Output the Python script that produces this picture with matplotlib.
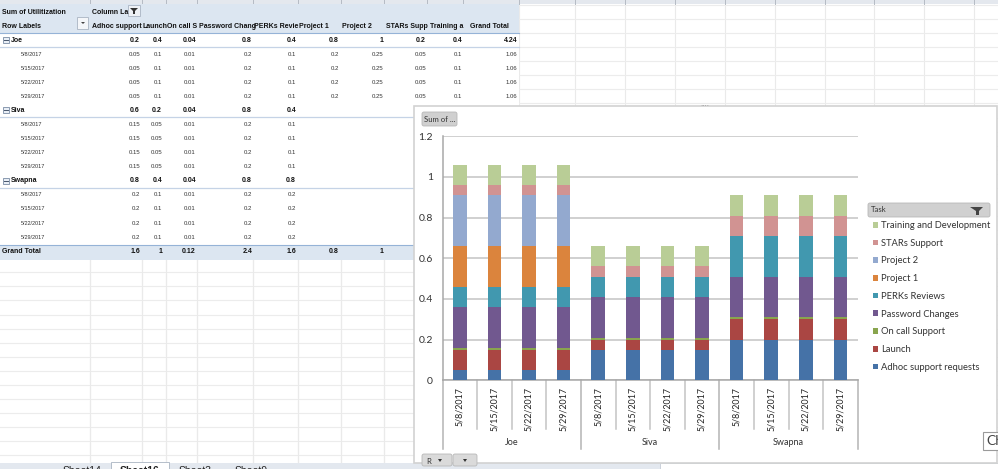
#!/usr/bin/env python3
import numpy as np
import matplotlib
matplotlib.use("Agg")
import matplotlib.pyplot as plt
from matplotlib.patches import Rectangle, FancyBboxPatch, Polygon

# chart data
people = ["Joe", "Siva", "Swapna"]
dates = ["5/8/2017", "5/15/2017", "5/22/2017", "5/29/2017"]
tasks = ["Adhoc support requests", "Launch", "On call Support", "Password Changes",
         "PERKs Reviews", "Project 1", "Project 2", "STARs Support",
         "Training and Development"]
adhoc = [0.05, 0.15, 0.2]
launch = [0.1, 0.05, 0.1]
oncall = [0.01, 0.01, 0.01]
password = [0.2, 0.2, 0.2]
perks = [0.1, 0.1, 0.2]
project1 = [0.2, 0, 0]
project2 = [0.25, 0, 0]
stars = [0.05, 0.05, 0.1]
training = [0.1, 0.1, 0.1]
colors = ["#4572A7", "#AA4643", "#89A54E", "#71588F", "#4198AF",
          "#DB843D", "#93A9CF", "#D19392", "#B9CD96"]
yticks = [0, 0.2, 0.4, 0.6, 0.8, 1, 1.2]

# pivot table text
headers = ["Adhoc support", "Launch", "On call S", "Password Chang", "PERKs Revie",
           "Project 1", "Project 2", "STARs Supp", "Training a", "Grand Total"]
joe_total = ["0.2", "0.4", "0.04", "0.8", "0.4", "0.8", "1", "0.2", "0.4", "4.24"]
joe_row = ["0.05", "0.1", "0.01", "0.2", "0.1", "0.2", "0.25", "0.05", "0.1", "1.06"]
siva_total = ["0.6", "0.2", "0.04", "0.8", "0.4"]
siva_row = ["0.15", "0.05", "0.01", "0.2", "0.1"]
swapna_total = ["0.8", "0.4", "0.04", "0.8", "0.8"]
swapna_row = ["0.2", "0.1", "0.01", "0.2", "0.2"]
grand_total = ["1.6", "1", "0.12", "2.4", "1.6", "0.8", "1"]

W, H = 998, 469
fig = plt.figure(figsize=(W / 100, H / 100), dpi=100, facecolor="white")

# sheet drawn in pixel coordinates
bg = fig.add_axes([0, 0, 1, 1])
bg.set_xlim(0, W)
bg.set_ylim(H, 0)
bg.axis("off")

col_lines = [90, 142, 166, 197, 253, 298, 341, 384, 427, 463, 519, 575, 625, 675, 725,
             775, 825, 874, 924, 974]
col_right = [140, 162, 196, 252, 296, 339, 383, 426, 462, 517]
col_left = [92, 143, 167, 199, 254, 299, 342, 386, 430, 470]
row_h = 14.07
row_y = [12 + i * row_h for i in range(18)]

# gridlines
for x in col_lines:
    bg.plot([x, x], [4, 463], color="#EAEAEA", lw=0.8, zorder=1)
for i in range(33):
    y = 5 + i * row_h
    bg.plot([0, W], [y, y], color="#ECECEC", lw=0.8, zorder=1)

# column header strip
bg.add_patch(Rectangle((0, 0), W, 4, fc="#E4E8EE", ec="none", zorder=2))
for x in col_lines:
    bg.plot([x, x], [0, 4], color="#B5BBC4", lw=0.7, zorder=2)

# white table body, blue header and total rows
bg.add_patch(Rectangle((0, 33), 519, 225, fc="white", ec="none", zorder=2))
bg.add_patch(Rectangle((0, 4), 519, 29, fc="#DCE6F1", ec="none", zorder=3))
bg.add_patch(Rectangle((0, 245.5), 519, 14.5, fc="#DCE6F1", ec="none", zorder=3))
bg.plot([0, 519], [33, 33], color="#95B3D7", lw=0.8, zorder=4)
bg.plot([0, 519], [245.5, 245.5], color="#95B3D7", lw=0.8, zorder=4)
for x in col_lines[:10]:
    bg.plot([x, x], [260, 463], color="#EAEAEA", lw=0.8, zorder=4)


def tbl(x, y, s, bold=False, ha="left", color="#111111", size=5.0):
    return bg.text(x, y, s, ha=ha, va="center", fontsize=size, color=color,
                   family="Liberation Sans", fontweight="bold" if bold else "normal",
                   zorder=6)


tbl(2, row_y[0], "Sum of Utilitization", bold=True)
tbl(92, row_y[0], "Column La", bold=True)
tbl(2, row_y[1], "Row Labels", bold=True)
for x, s, edge in zip(col_left, headers, col_lines[1:]):
    t = tbl(x, row_y[1], s, bold=True)
    # long headers stop at the next column like in the sheet
    t.set_clip_path(Rectangle((x, 18), edge - x, 15, transform=bg.transData))

# filter buttons in the header
bg.add_patch(Rectangle((128, 5), 12, 11, fc="#EEF1F5", ec="#A9B4C2", lw=0.6, zorder=5))
bg.add_patch(Polygon([[130, 8], [138, 8], [135, 11], [135, 14], [133, 14], [133, 11]],
                     fc="#333333", ec="none", zorder=6))
bg.add_patch(Rectangle((77, 17), 11, 12, fc="#F4F6F9", ec="#A9B4C2", lw=0.6, zorder=5))
bg.add_patch(Polygon([[81, 22], [85, 22], [83, 24]], fc="#444444", ec="none", zorder=6))

groups = [(people[0], joe_total, joe_row), (people[1], siva_total, siva_row),
          (people[2], swapna_total, swapna_row)]
r = 2
for name, total, row in groups:
    y = row_y[r]
    bg.add_patch(Rectangle((3, y - 3), 6, 6, fc="#E8EEF6", ec="#7A8CA5", lw=0.6, zorder=6))
    bg.plot([4, 8], [y, y], color="#44546A", lw=0.7, zorder=7)
    tbl(11, y, name, bold=True)
    for x, s in zip(col_right, total):
        tbl(x, y, s, bold=True, ha="right")
    bg.plot([0, 519], [y + 7, y + 7], color="#C5D3E6", lw=0.9, zorder=4)
    r += 1
    for d in dates:
        y = row_y[r]
        tbl(21, y, d, color="#333333", size=4.0)
        for x, s in zip(col_right, row):
            tbl(x, y, s, ha="right", color="#333333", size=4.3)
        r += 1
tbl(2, row_y[r], "Grand Total", bold=True)
for x, s in zip(col_right, grand_total):
    tbl(x, row_y[r], s, bold=True, ha="right")

# sheet tabs at the bottom
bg.add_patch(Rectangle((0, 463), W, 6, fc="#E3E8EF", ec="none", zorder=5))
bg.add_patch(Rectangle((111, 462), 58, 8, fc="white", ec="#A9B4C2", lw=0.6, zorder=6))
tab_x = [82, 140, 195, 251]
tab_names = ["Sheet14", "Sheet16", "Sheet3", "Sheet9"]
for x, s in zip(tab_x, tab_names):
    bg.text(x, 471, s, ha="center", va="center", fontsize=7.5, family="Liberation Sans",
            color="#222222", zorder=7, clip_on=True,
            fontweight="bold" if s == "Sheet16" else "normal")
bg.add_patch(Rectangle((660, 463), 338, 7, fc="white", ec="#C5CCD6", lw=0.6, zorder=6))

# chart window
bg.add_patch(Rectangle((414, 106), 583, 357, fc="white", ec="#D2D2D2", lw=1.2, zorder=8))
bg.text(705, 103.5, "....", ha="center", va="center", fontsize=5, color="#999999", zorder=9)


def button(x0, y0, w, h, fc="#D0D0D0"):
    bg.add_patch(FancyBboxPatch((x0, y0), w, h, boxstyle="round,pad=0,rounding_size=2",
                                fc=fc, ec="#B8B8B8", lw=0.6, zorder=9))


button(422, 112, 35, 14)
bg.text(439.5, 119, "Sum of ...", ha="center", va="center", fontsize=5.6,
        family="Lato", color="#333333", zorder=10)
button(868, 203, 122, 14)
bg.text(870.5, 210, "Task", ha="left", va="center", fontsize=5.6,
        family="Lato", color="#333333", zorder=10)
bg.add_patch(Polygon([[970, 207], [983, 207], [979, 211], [979, 215], [976, 215], [976, 211]],
                     fc="#444444", ec="none", zorder=10))
button(422, 454, 30, 12, fc="#DADADA")
button(453, 454, 24, 12, fc="#DADADA")
bg.text(426, 461, "R", ha="left", va="center", fontsize=5.6, family="Lato", color="#333333", zorder=10)
for x in [440, 465]:
    bg.add_patch(Polygon([[x - 2, 459], [x + 2, 459], [x, 462]], fc="#333333", ec="none", zorder=10))
bg.add_patch(Rectangle((983, 432), 18, 18, fc="white", ec="#9A9A9A", lw=0.8, zorder=10))
bg.text(986, 441, "Ch", ha="left", va="center", fontsize=10, family="Lato",
        color="#444444", zorder=11)

# stacked columns
ax = fig.add_axes([442.5 / W, (H - 380.3) / H, 415.2 / W, 244 / H], zorder=5)
ax.patch.set_alpha(0)
n = len(people) * len(dates)
x = np.arange(n)
series = [adhoc, launch, oncall, password, perks, project1, project2, stars, training]
bottom = np.zeros(n)
handles = []
for name, vals, c in zip(tasks, series, colors):
    v = np.repeat(vals, len(dates))
    b = ax.bar(x, v, width=0.395, bottom=bottom, color=c, label=name, linewidth=0, zorder=3)
    handles.append(b)
    bottom += v

ax.set_xlim(-0.5, n - 0.5)
ax.set_ylim(0, 1.2)
ax.set_yticks(yticks)
ax.set_yticklabels(["0", "0.2", "0.4", "0.6", "0.8", "1", "1.2"], fontsize=7.5,
                   family="Lato", color="#333333")
ax.tick_params(axis="y", length=0, pad=7)
ax.grid(axis="y", color="#C4C4C4", lw=1.1, zorder=0)
ax.set_axisbelow(True)
for s in ["top", "right"]:
    ax.spines[s].set_visible(False)
for s in ["left", "bottom"]:
    ax.spines[s].set_color("#A8A8A8")
    ax.spines[s].set_linewidth(1.1)

# two level category axis
ax.set_xticks(x)
ax.set_xticklabels(dates * len(people), rotation=90, fontsize=6.4, family="Lato",
                   color="#222222")
ax.tick_params(axis="x", length=0, pad=5)
tr = ax.get_xaxis_transform()
for i in range(n + 1):
    is_group = i % len(dates) == 0
    low = -0.283 if is_group else -0.2
    ax.plot([i - 0.5, i - 0.5], [0, low], transform=tr, clip_on=False,
            color="#C4C4C4" if not is_group else "#B4B4B4", lw=1.1, zorder=2)
for i, name in enumerate(people):
    ax.text(i * len(dates) + 1.5, -0.255, name, transform=tr, ha="center", va="center",
            fontsize=6.5, family="Lato", color="#333333")

# legend reads top to bottom in reverse stack order
leg = ax.legend(handles[::-1], tasks[::-1], loc="upper left", frameon=False,
                bbox_to_anchor=(873 / W, (H - 221) / H), bbox_transform=fig.transFigure,
                borderaxespad=0, borderpad=0, handlelength=0.55, handleheight=0.55,
                handletextpad=0.3, labelspacing=0.93,
                prop={"family": "Lato", "size": 6.75})
for t in leg.get_texts():
    t.set_color("#333333")

fig.savefig("out.png", dpi=100)
